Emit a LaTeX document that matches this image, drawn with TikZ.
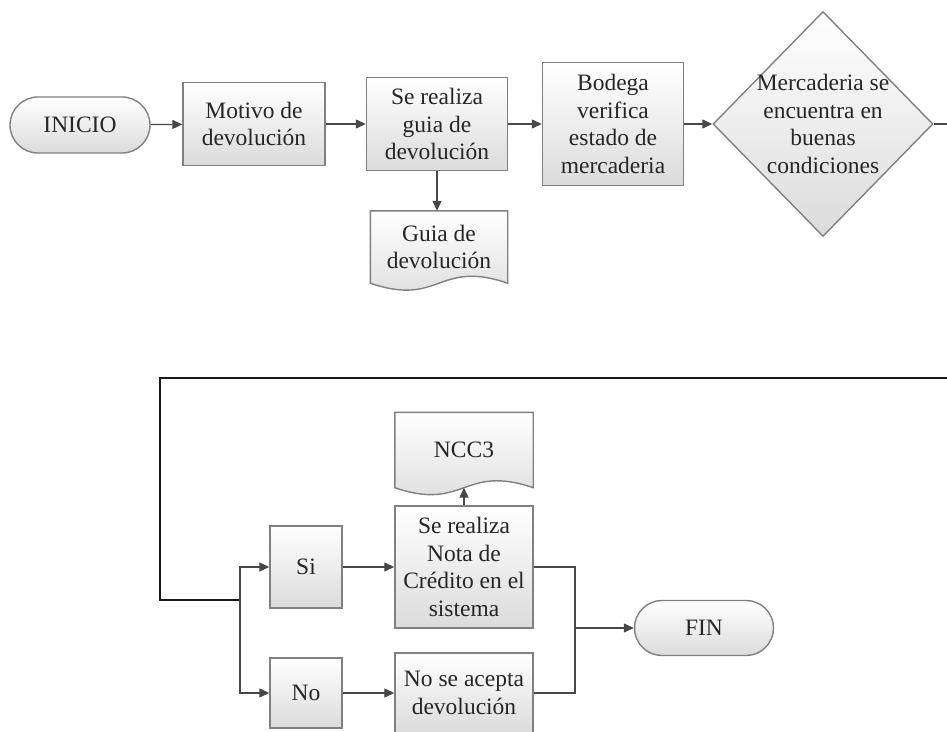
\documentclass[tikz,border=0pt]{standalone}
\usepackage{fontspec}
\setmainfont{Liberation Serif}
\usetikzlibrary{shapes.geometric,shapes.misc,arrows.meta,backgrounds}

\newcommand\docshape[1]{%
  \begin{scope}[on background layer]
    \path[proc] (#1.north west) -- (#1.south west)
      .. controls +(70,24) and +(-70,-24) .. (#1.south east)
      -- (#1.north east) -- cycle;
  \end{scope}}

\begin{document}
\begin{tikzpicture}[x=1pt,y=-1pt,
    >={Triangle[length=10pt,width=9pt]},
    every node/.style={font=\fontsize{23.5}{27.5}\selectfont,text=black!85,align=center},
    proc/.style={draw=black!50,line width=1.4pt,top color=white,bottom color=black!14,inner sep=0pt},
    term/.style={proc,rounded rectangle,minimum width=140pt,minimum height=56pt},
    doc/.style={inner sep=0pt},
    dec/.style={proc,diamond,inner sep=-5pt,minimum width=220pt,minimum height=225pt},
    flow/.style={draw=black!72,line width=1.3pt},
    loopline/.style={draw=black!90,line width=2pt}]
    \useasboundingbox (0,0) rectangle (947,731);
    \clip (0,0) rectangle (947,731);

    \node[term] (inicio) at (80,125) {INICIO};
    \node[proc,minimum width=142pt,minimum height=83pt] (motivo) at (254,124) {Motivo de\\devolución};
    \node[proc,minimum width=141pt,minimum height=93pt] (guia) at (437,124) {Se realiza\\guia de\\devolución};
    \node[doc,minimum width=137pt,minimum height=72pt] (guiadoc) at (439,247) {Guia de\\devolución};
    \docshape{guiadoc}
    \node[proc,minimum width=141pt,minimum height=123pt] (bodega) at (613,124) {Bodega\\verifica\\estado de\\mercaderia};
    \node[dec] (merc) at (823,124) {Mercaderia se\\encuentra en\\buenas\\condiciones};
    \coordinate (salida) at (947,124);

    \draw[flow,->] (inicio) -- (motivo);
    \draw[flow,->] (motivo) -- (guia);
    \draw[flow,->] (guia.south) -- (guia.south |- guiadoc.north);
    \draw[flow,->] (guia) -- (bodega);
    \draw[flow,->] (bodega) -- (merc);
    \draw[flow] (merc) -- (salida);

    \coordinate (entrada) at (947,378);
    \coordinate (esquina) at (160,378);
    \coordinate (split) at (240,600);
    \draw[loopline] (entrada) -- (esquina) |- (split);

    \node[proc,minimum width=72pt,minimum height=82pt] (si) at (306,567) {Si};
    \node[proc,minimum width=72pt,minimum height=70pt] (no) at (306,693) {No};
    \node[proc,minimum width=138pt,minimum height=122pt] (nota) at (464,567) {Se realiza\\Nota de\\Crédito en el\\sistema};
    \node[doc,minimum width=138pt,minimum height=75pt] (ncc) at (464,450) {NCC3};
    \docshape{ncc}
    \node[proc,minimum width=138pt,minimum height=80pt] (rechazo) at (464,693) {No se acepta\\devolución};
    \coordinate (merge) at (575,628);
    \node[term,minimum width=139pt,minimum height=55pt] (fin) at (704,628) {FIN};

    \draw[flow,->] (split) |- (si);
    \draw[flow,->] (split) |- (no);
    \draw[flow,->] (si) -- (nota);
    \draw[flow,->] (no) -- (rechazo);
    \draw[flow,->] (nota.north) -- (ncc.south);
    \draw[flow] (nota) -| (merge);
    \draw[flow] (rechazo) -| (merge);
    \draw[flow,->] (merge) -- (fin);
\end{tikzpicture}
\end{document}
